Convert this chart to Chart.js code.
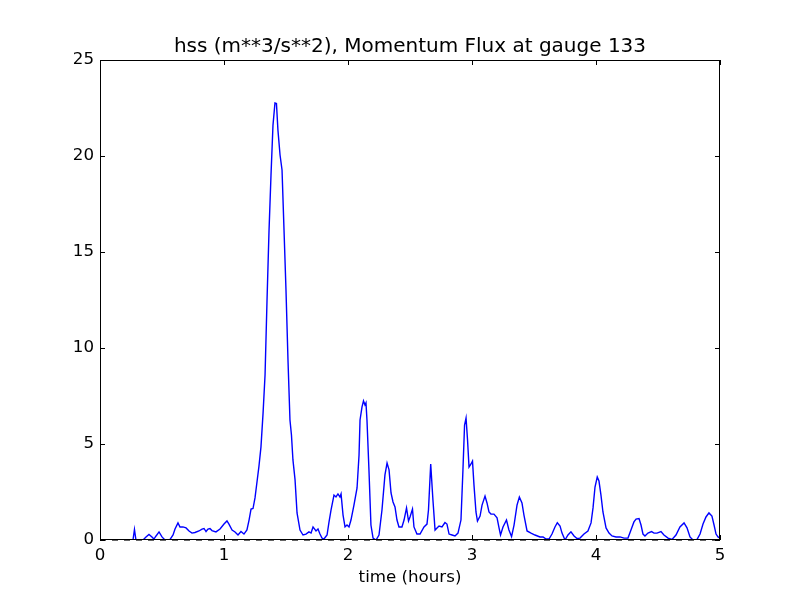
<!DOCTYPE html>
<html>
<head>
<meta charset="utf-8">
<script src="https://cdn.jsdelivr.net/npm/chart.js@4.4.1/dist/chart.umd.min.js"></script>
<style>
  html, body { margin: 0; padding: 0; background: #fff; }
</style>
</head>
<body>
<canvas id="flux" width="800" height="600"></canvas>
<script>
// time (hours) and momentum flux
const times = [
  0.000, 0.266, 0.278, 0.290, 0.347, 0.371, 0.395, 0.419, 0.435, 0.452,
  0.476, 0.500, 0.524, 0.565, 0.589, 0.605, 0.629, 0.645, 0.669, 0.694,
  0.718, 0.742, 0.766, 0.798, 0.823, 0.839, 0.855, 0.871, 0.887, 0.903,
  0.935, 0.968, 1.000, 1.024, 1.040, 1.065, 1.089, 1.113, 1.137, 1.161,
  1.185, 1.202, 1.218, 1.234, 1.250, 1.266, 1.282, 1.298, 1.315, 1.331,
  1.347, 1.363, 1.379, 1.395, 1.411, 1.423, 1.435, 1.452, 1.468, 1.484,
  1.500, 1.516, 1.532, 1.544, 1.556, 1.573, 1.589, 1.613, 1.637, 1.661,
  1.685, 1.702, 1.718, 1.742, 1.758, 1.774, 1.790, 1.806, 1.831, 1.847,
  1.863, 1.887, 1.903, 1.919, 1.935, 1.944, 1.960, 1.976, 1.992, 2.008,
  2.024, 2.048, 2.073, 2.089, 2.097, 2.113, 2.125, 2.137, 2.145, 2.153,
  2.169, 2.185, 2.202, 2.226, 2.250, 2.274, 2.298, 2.315, 2.331, 2.347,
  2.363, 2.379, 2.395, 2.411, 2.435, 2.452, 2.472, 2.488, 2.500, 2.520,
  2.532, 2.556, 2.581, 2.613, 2.637, 2.649, 2.667, 2.685, 2.702, 2.718,
  2.734, 2.758, 2.782, 2.798, 2.815, 2.839, 2.863, 2.887, 2.911, 2.927,
  2.940, 2.952, 2.964, 2.976, 2.992, 3.004, 3.016, 3.032, 3.044, 3.065,
  3.081, 3.105, 3.121, 3.137, 3.153, 3.177, 3.202, 3.218, 3.230, 3.250,
  3.278, 3.298, 3.319, 3.339, 3.363, 3.382, 3.403, 3.419, 3.444, 3.476,
  3.508, 3.548, 3.573, 3.597, 3.621, 3.645, 3.669, 3.688, 3.710, 3.726,
  3.750, 3.774, 3.798, 3.823, 3.847, 3.871, 3.903, 3.935, 3.960, 3.976,
  3.992, 4.010, 4.024, 4.040, 4.056, 4.081, 4.105, 4.129, 4.161, 4.194,
  4.226, 4.258, 4.282, 4.306, 4.323, 4.347, 4.363, 4.379, 4.395, 4.419,
  4.448, 4.468, 4.492, 4.524, 4.548, 4.581, 4.613, 4.645, 4.677, 4.710,
  4.734, 4.758, 4.782, 4.815, 4.839, 4.863, 4.887, 4.911, 4.935, 4.952,
  4.968, 4.984, 5.000
];
const flux = [
  0.00, 0.00, 0.55, 0.00, 0.00, 0.16, 0.29, 0.16, 0.05, 0.21,
  0.42, 0.16, 0.00, 0.03, 0.26, 0.57, 0.89, 0.68, 0.68, 0.63,
  0.47, 0.36, 0.39, 0.47, 0.57, 0.60, 0.44, 0.57, 0.60, 0.49,
  0.42, 0.57, 0.83, 0.99, 0.83, 0.52, 0.42, 0.26, 0.44, 0.31,
  0.52, 1.04, 1.61, 1.64, 2.19, 3.02, 3.85, 4.84, 6.61, 8.59,
  12.5, 16.1, 19.0, 21.6, 22.76, 22.73, 21.35, 20.05, 19.27, 16.15,
  13.0, 9.38, 6.25, 5.47, 4.17, 3.13, 1.41, 0.52, 0.26, 0.31,
  0.42, 0.36, 0.68, 0.47, 0.57, 0.31, 0.10, 0.05, 0.26, 0.94,
  1.56, 2.34, 2.24, 2.40, 2.24, 2.40, 1.30, 0.68, 0.78, 0.68,
  1.04, 1.82, 2.71, 4.43, 6.25, 6.93, 7.24, 7.03, 7.14, 6.25,
  3.65, 0.78, 0.10, 0.00, 0.26, 1.56, 3.39, 4.01, 3.65, 2.45,
  1.98, 1.72, 1.04, 0.68, 0.68, 1.04, 1.67, 0.99, 1.20, 1.61,
  0.68, 0.31, 0.31, 0.68, 0.83, 1.56, 3.96, 2.08, 0.52, 0.63,
  0.73, 0.68, 0.91, 0.83, 0.31, 0.26, 0.21, 0.36, 1.04, 3.65,
  5.99, 6.35, 5.21, 3.80, 3.96, 4.11, 2.86, 1.46, 0.99, 1.25,
  1.82, 2.29, 1.93, 1.46, 1.35, 1.35, 1.15, 0.63, 0.26, 0.68,
  1.04, 0.52, 0.18, 0.78, 1.82, 2.24, 1.93, 1.30, 0.47, 0.36,
  0.26, 0.16, 0.16, 0.05, 0.05, 0.31, 0.68, 0.90, 0.73, 0.36,
  0.00, 0.26, 0.43, 0.21, 0.08, 0.10, 0.31, 0.47, 0.89, 1.67,
  2.76, 3.28, 3.07, 2.34, 1.46, 0.63, 0.36, 0.21, 0.16, 0.16,
  0.10, 0.10, 0.52, 0.94, 1.09, 1.12, 0.78, 0.31, 0.21, 0.36,
  0.44, 0.36, 0.36, 0.44, 0.26, 0.10, 0.03, 0.26, 0.68, 0.89,
  0.63, 0.16, 0.00, 0.03, 0.31, 0.83, 1.20, 1.41, 1.25, 0.78,
  0.31, 0.16, 0.10
];
const xTicks = [0, 1, 2, 3, 4, 5];
const yTicks = [0, 5, 10, 15, 20, 25];

Chart.defaults.font.family = "'DejaVu Sans', sans-serif";
Chart.defaults.color = '#000';

const fluxPoints = times.map((t, i) => ({ x: t, y: flux[i] }));
const zeroLine = [{ x: xTicks[0], y: 0 }, { x: xTicks[xTicks.length - 1], y: 0 }];

// matplotlib-style box with inward ticks on all four sides
const frameBox = {
  id: 'frameBox',
  afterDatasetsDraw(chart) {
    const { ctx, chartArea: a, scales } = chart;
    const len = 5;
    ctx.save();
    ctx.strokeStyle = '#000';
    ctx.lineWidth = 1;
    ctx.strokeRect(a.left + 0.5, a.top + 0.5, a.right - a.left - 1, a.bottom - a.top - 1);
    ctx.beginPath();
    xTicks.forEach(v => {
      const px = Math.round(scales.x.getPixelForValue(v)) + 0.5;
      ctx.moveTo(px, a.bottom); ctx.lineTo(px, a.bottom - len);
      ctx.moveTo(px, a.top); ctx.lineTo(px, a.top + len);
    });
    yTicks.forEach(v => {
      const py = Math.round(scales.y.getPixelForValue(v)) + 0.5;
      ctx.moveTo(a.left, py); ctx.lineTo(a.left + len, py);
      ctx.moveTo(a.right, py); ctx.lineTo(a.right - len, py);
    });
    ctx.stroke();
    ctx.restore();
  }
};

new Chart(document.getElementById('flux'), {
  type: 'line',
  data: {
    datasets: [
      {
        data: zeroLine,
        borderColor: '#000',
        borderWidth: 1.2,
        borderDash: [6, 6],
        pointRadius: 0,
        clip: false
      },
      {
        data: fluxPoints,
        borderColor: '#0000ff',
        borderWidth: 1.4,
        pointRadius: 0,
        tension: 0
      }
    ]
  },
  options: {
    responsive: false,
    animation: false,
    layout: { padding: { top: 0, right: 80, bottom: 0, left: 0 } },
    plugins: {
      legend: { display: false },
      tooltip: { enabled: false },
      title: {
        display: true,
        text: 'hss (m**3/s**2), Momentum Flux at gauge 133',
        fullSize: false,
        color: '#000',
        font: { size: 20, weight: 'normal' },
        padding: { top: 35, bottom: 1 }
      }
    },
    scales: {
      x: {
        type: 'linear',
        min: 0,
        max: 5,
        afterFit: s => { s.height = 60; },
        afterBuildTicks: s => { s.ticks = xTicks.map(v => ({ value: v })); },
        ticks: { font: { size: 16.67 }, padding: 6, maxRotation: 0 },
        grid: { display: false, drawTicks: false },
        border: { display: false },
        title: {
          display: true,
          text: 'time (hours)',
          font: { size: 16.67 },
          padding: { top: 0, bottom: 12 }
        }
      },
      y: {
        min: 0,
        max: 25,
        afterFit: s => { s.width = 100; },
        afterBuildTicks: s => { s.ticks = yTicks.map(v => ({ value: v })); },
        ticks: { font: { size: 16.67 }, padding: 6 },
        grid: { display: false, drawTicks: false },
        border: { display: false }
      }
    }
  },
  plugins: [frameBox]
});
</script>
</body>
</html>
